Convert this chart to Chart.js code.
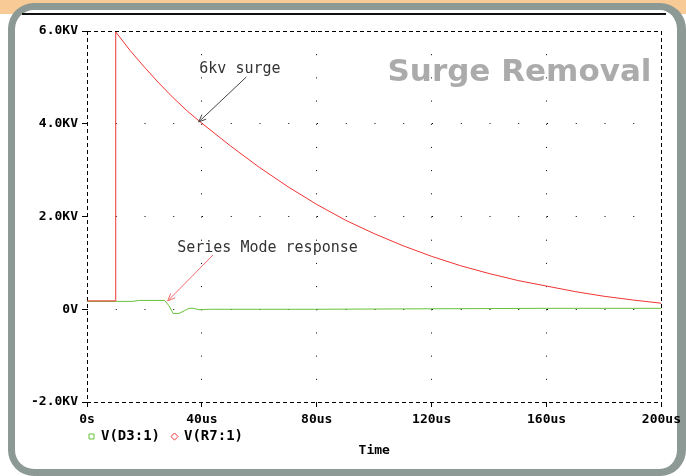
<!DOCTYPE html>
<html>
<head>
<meta charset="utf-8">
<script src="https://cdn.jsdelivr.net/npm/chart.js@4"></script>
<style>
  html, body { margin: 0; padding: 0; background: #fff; }
  body { width: 686px; height: 476px; overflow: hidden; position: relative; }
  .band { position: absolute; left: 0; top: 0; width: 686px; height: 14px; background: #f8cb96; }
  .frame { position: absolute; left: 8px; top: 3px; width: 678px; height: 473px; box-sizing: border-box;
           border: 7px solid #8c9994; border-right-width: 9px; border-radius: 26px; background: #fff; }
  .rule { position: absolute; left: 22px; top: 13px; width: 644px; height: 2px; background: #111; }
  #chart { position: absolute; left: 0; top: 0; }
</style>
</head>
<body>
<div class="band"></div>
<div class="frame"></div>
<div class="rule"></div>
<canvas id="chart" width="686" height="476"></canvas>
<script>
// tick labels
const xTickLabels = ['0s', '40us', '80us', '120us', '160us', '200us'];
const yTickLabels = ['-2.0KV', '0V', '2.0KV', '4.0KV', '6.0KV'];

// V(D3:1) - series mode response (time in us, volts in KV)
const greenTime  = [0, 10, 16, 18, 27, 28.5, 30, 32, 34, 35.5, 37, 39, 43, 80, 120, 160, 200];
const greenVolts = [0.17, 0.17, 0.17, 0.19, 0.19, 0.08, -0.09, -0.09, -0.03, 0.02, 0.02, -0.01, 0.0, 0.0, 0.01, 0.02, 0.02];

// V(R7:1) - 6kv surge
const redTime  = [0, 10, 10, 15, 20, 25, 30, 35, 40, 50, 60, 70, 80, 90, 100, 110, 120, 130, 140, 150, 160, 170, 180, 190, 200];
const redVolts = [0.18, 0.18, 5.98, 5.58, 5.22, 4.88, 4.56, 4.27, 4.01, 3.52, 3.06, 2.64, 2.26, 1.92, 1.63, 1.37, 1.14, 0.94, 0.77, 0.62, 0.50, 0.38, 0.28, 0.20, 0.13];

// annotations, in data units (us, KV)
const noteLabels    = ['6kv surge', 'Series Mode response'];
const noteTextAt    = [[39.1, 5.09], [31.4, 1.23]];
const noteArrowFrom = [[55.5, 5.01], [43.9, 1.17]];
const noteArrowTo   = [[38.9, 4.04], [28.1, 0.18]];
const noteColors    = ['#444444', '#f26a6a'];

const mono = "'DejaVu Sans Mono', monospace";

function points(xs, ys) {
    return xs.map((x, i) => ({ x: x, y: ys[i] }));
}

function edgeDash(last, dots) {
    return ctx => {
        if (ctx.index === undefined) return [];
        return (ctx.index === 0 || ctx.index === last) ? [4, 3] : dots;
    };
}

// move the legend down between tick labels and axis title
const legendMover = {
    id: 'legendMover',
    afterLayout(chart) {
        const lg = chart.legend;
        const pad = lg.options.labels.padding;
        const half = lg.options.labels.font.size / 2;
        const dx = chart.chartArea.left + 2 - pad - lg.left;
        const dy = chart.chartArea.bottom + 34.5 - half - pad - lg.top;
        lg.left += dx; lg.right += dx;
        lg.top += dy; lg.bottom += dy;
    }
};

// annotations and the big title
const notes = {
    id: 'notes',
    afterDraw(chart) {
        const { ctx, chartArea } = chart;
        const xs = chart.scales.x, ys = chart.scales.y;
        ctx.save();
        ctx.font = "15px " + mono;
        ctx.textBaseline = 'alphabetic';
        ctx.textAlign = 'left';
        noteLabels.forEach((txt, i) => {
            ctx.fillStyle = '#333';
            ctx.fillText(txt, xs.getPixelForValue(noteTextAt[i][0]), ys.getPixelForValue(noteTextAt[i][1]));
            const x1 = xs.getPixelForValue(noteArrowFrom[i][0]), y1 = ys.getPixelForValue(noteArrowFrom[i][1]);
            const x2 = xs.getPixelForValue(noteArrowTo[i][0]), y2 = ys.getPixelForValue(noteArrowTo[i][1]);
            const a = Math.atan2(y1 - y2, x1 - x2);
            ctx.strokeStyle = noteColors[i];
            ctx.lineWidth = 1;
            ctx.beginPath();
            ctx.moveTo(x1, y1);
            ctx.lineTo(x2, y2);
            ctx.moveTo(x2 + 8 * Math.cos(a + 0.4), y2 + 8 * Math.sin(a + 0.4));
            ctx.lineTo(x2, y2);
            ctx.lineTo(x2 + 8 * Math.cos(a - 0.4), y2 + 8 * Math.sin(a - 0.4));
            ctx.stroke();
        });
        ctx.font = "bold 31px 'DejaVu Sans', sans-serif";
        ctx.fillStyle = '#ababab';
        ctx.textAlign = 'right';
        ctx.fillText('Surge Removal', chartArea.right - 10, chartArea.top + 50);
        ctx.restore();
    }
};

new Chart(document.getElementById('chart'), {
    type: 'line',
    data: {
        datasets: [{
            label: 'V(D3:1)',
            data: points(greenTime, greenVolts),
            borderColor: '#66c23a',
            backgroundColor: '#ffffff',
            borderWidth: 1,
            pointRadius: 0,
            pointStyle: 'rect',
            tension: 0,
            order: 1
        }, {
            label: 'V(R7:1)',
            data: points(redTime, redVolts),
            borderColor: '#f03434',
            backgroundColor: '#ffffff',
            borderWidth: 1,
            pointRadius: 0,
            pointStyle: 'rectRot',
            tension: 0,
            order: 0
        }]
    },
    options: {
        responsive: false,
        animation: false,
        devicePixelRatio: 1,
        layout: { padding: { left: 32, right: 24, top: 0, bottom: 17.2 } },
        plugins: {
            tooltip: { enabled: false },
            legend: {
                position: 'top',
                fullSize: false,
                align: 'start',
                maxHeight: 31,
                labels: {
                    usePointStyle: true,
                    boxWidth: 5,
                    boxHeight: 5,
                    padding: 12,
                    color: '#000',
                    font: { family: mono, size: 14, weight: 'bold' },
                    sort: (a, b) => a.datasetIndex - b.datasetIndex
                }
            }
        },
        scales: {
            x: {
                type: 'linear',
                min: 0,
                max: 200,
                ticks: {
                    stepSize: 40,
                    padding: 5,
                    maxRotation: 0,
                    color: '#000',
                    font: { family: mono, size: 13, weight: 'bold' },
                    callback: (v, i) => xTickLabels[i]
                },
                grid: { color: '#000', lineWidth: 1, tickLength: 5 },
                border: { display: false, dash: edgeDash(5, [1, 22.19]) },
                title: {
                    display: true,
                    text: 'Time',
                    color: '#000',
                    font: { family: mono, size: 13, weight: 'bold' },
                    padding: { top: 10.6, bottom: 0 }
                }
            },
            y: {
                min: -2,
                max: 6,
                afterFit(scale) { scale.width = 55; },
                ticks: {
                    stepSize: 2,
                    padding: 4,
                    color: '#000',
                    font: { family: mono, size: 13, weight: 'bold' },
                    callback: (v, i) => yTickLabels[i]
                },
                grid: { color: '#000', lineWidth: 1, tickLength: 5 },
                border: { display: false, dash: edgeDash(4, [1, 27.75]) }
            }
        }
    },
    plugins: [legendMover, notes]
});
</script>
</body>
</html>
